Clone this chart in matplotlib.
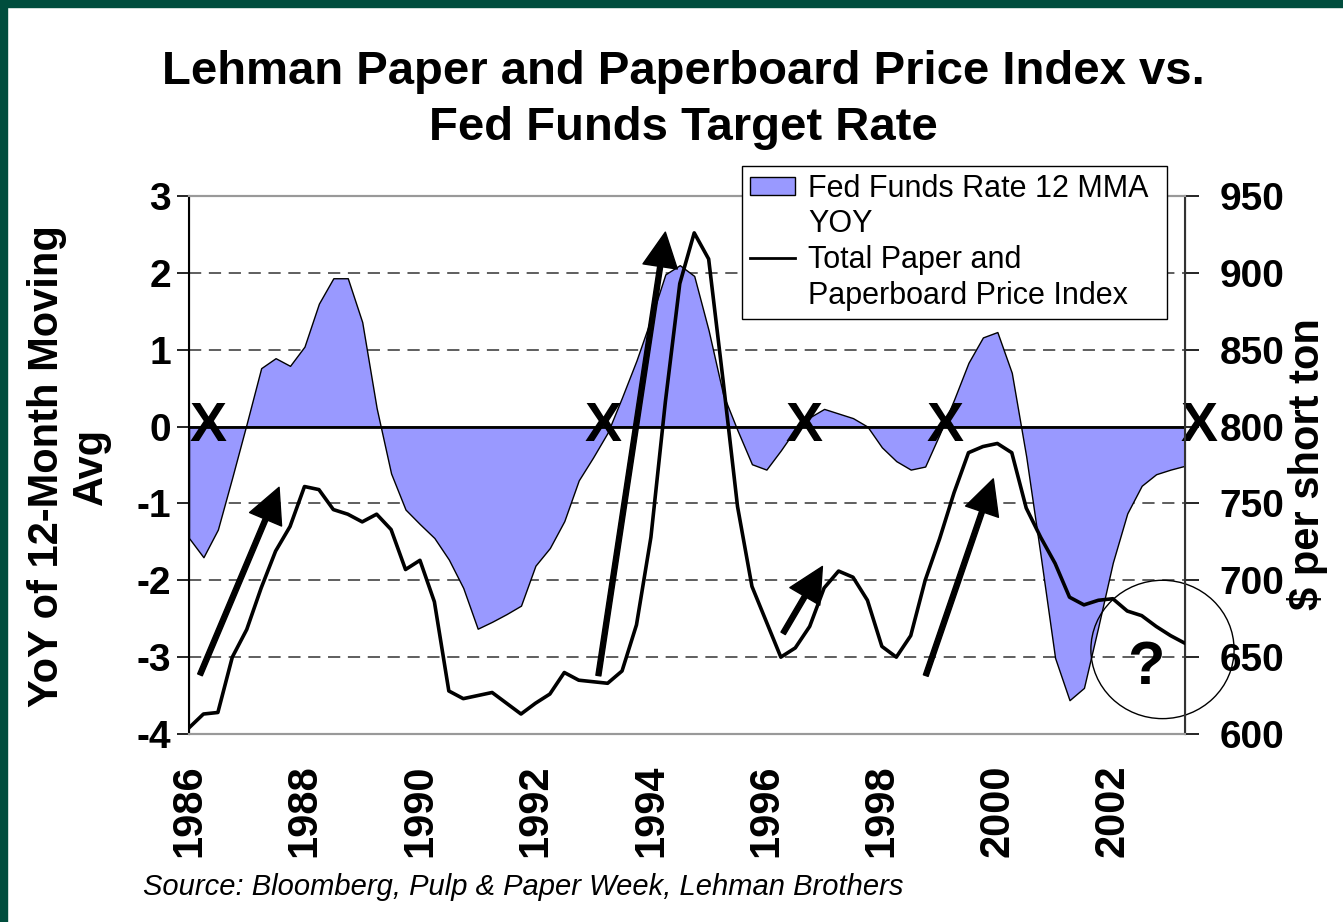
import matplotlib.pyplot as plt
import numpy as np
from matplotlib.patches import Patch, Ellipse
from matplotlib.lines import Line2D

plt.rcParams['font.family'] = ['Liberation Sans', 'DejaVu Sans']

# quarterly data, first quarter of 1986 onward
start_year = 1986
fed_yoy = [-1.45, -1.70, -1.34, -0.66, 0.04, 0.76, 0.89, 0.79, 1.04, 1.60,
           1.93, 1.93, 1.36, 0.24, -0.61, -1.08, -1.27, -1.45, -1.73, -2.10,
           -2.63, -2.54, -2.44, -2.33, -1.81, -1.58, -1.23, -0.70, -0.40, -0.08,
           0.38, 0.86, 1.40, 1.98, 2.10, 1.96, 1.25, 0.42, -0.05, -0.49,
           -0.56, -0.31, -0.04, 0.12, 0.23, 0.17, 0.11, 0.00, -0.27, -0.45,
           -0.56, -0.52, -0.10, 0.35, 0.83, 1.16, 1.23, 0.70, -0.39, -1.68,
           -3.01, -3.56, -3.40, -2.60, -1.77, -1.13, -0.77, -0.62, -0.56, -0.51]
price_index = [604, 613, 614, 650, 668, 695, 719, 735, 761, 759,
               746, 743, 738, 743, 733, 707, 713, 686, 628, 623,
               625, 627, 620, 613, 620, 626, 640, 635, 634, 633,
               641, 671, 728, 816, 893, 926, 909, 830, 748, 696,
               673, 650, 656, 670, 695, 706, 702, 687, 657, 650,
               664, 700, 727, 757, 783, 787, 789, 783, 747, 728,
               711, 689, 684, 687, 688, 680, 677, 670, 664, 659]
quarters = start_year + np.arange(len(fed_yoy)) / 4

year_ticks = [1986, 1988, 1990, 1992, 1994, 1996, 1998, 2000, 2002]
left_ticks = [-4, -3, -2, -1, 0, 1, 2, 3]
right_ticks = [600, 650, 700, 750, 800, 850, 900, 950]

# turning points (X marks) and arrows (tail -> tip)
x_marks = [1986.33, 1993.17, 1996.65, 1999.09, 2003.50]
arrows = [((1986.19, -3.23), (1987.56, -0.79)),
          ((1993.09, -3.24), (1994.25, 2.53)),
          ((1996.29, -2.69), (1996.97, -1.82)),
          ((1998.76, -3.24), (1999.93, -0.68))]

fig = plt.figure(figsize=(13.43, 9.22), dpi=100)
ax = fig.add_axes([189/1343, 1 - 734/922, (1185-189)/1343, (734-196)/922])
ax2 = ax.twinx()

ax.fill_between(quarters, fed_yoy, 0, facecolor='#9999ff', edgecolor='black', lw=1, zorder=2)
ax2.plot(quarters, price_index, color='black', lw=2.6, zorder=3)

ax.set_xlim(1986, 2003.25)
ax.set_ylim(-4, 3)
ax2.set_ylim(600, 950)

for g in [-3, -2, -1, 1, 2]:
    ax.axhline(g, color='#333333', lw=1.1, dashes=(8, 5), zorder=1)
ax.axhline(0, color='black', lw=2, zorder=4)

ax.set_xticks(year_ticks)
ax.set_xticklabels([str(y) for y in year_ticks], rotation=90, fontsize=30, fontweight='bold')
ax.tick_params(axis='x', length=0, pad=22)
ax.set_yticks(left_ticks)
ax.set_yticklabels([str(t) for t in left_ticks], fontsize=28, fontweight='bold')
ax.tick_params(axis='y', length=9, width=1.2, pad=4, direction='out')
ax2.set_yticks(right_ticks)
ax2.set_yticklabels([str(t) for t in right_ticks], fontsize=28, fontweight='bold')
ax2.tick_params(axis='y', length=10, width=1.2, pad=15, direction='out')

for a in (ax, ax2):
    a.spines['top'].set_color('#999999')
    a.spines['bottom'].set_color('#999999')
    a.spines['top'].set_linewidth(1.5)
    a.spines['bottom'].set_linewidth(1.5)
ax2.spines['left'].set_color('black')
ax2.spines['left'].set_linewidth(1.5)
ax2.spines['right'].set_color('#333333')
ax2.spines['right'].set_linewidth(1.5)

for xm in x_marks:
    ax.text(xm, 0, 'X', fontsize=40, fontweight='bold', ha='center', va='center',
            zorder=6, clip_on=False)

for tail, tip in arrows:
    ax.annotate('', xy=tip, xytext=tail, zorder=6,
                arrowprops=dict(facecolor='black', edgecolor='black', width=3.6,
                                headwidth=25, headlength=25, shrink=0))

ax.add_patch(Ellipse((2002.86, -2.9), 2.48, 1.8, fill=False, edgecolor='black',
                     lw=1, clip_on=False, zorder=6))
ax.text(2002.57, -3.15, '?', fontsize=44, fontweight='bold', ha='center', va='center', zorder=6)

# Excel puts the legend key next to the first line of each entry
blank = Line2D([], [], color='none')
handles = [Patch(facecolor='#9999ff', edgecolor='black', lw=1), blank,
           Line2D([], [], color='black', lw=2), blank]
labels = ['Fed Funds Rate 12 MMA', 'YOY', 'Total Paper and', 'Paperboard Price Index']
leg = fig.legend(handles, labels, loc='upper left',
                 bbox_to_anchor=(742/1343, 1 - 313/922, 425/1343, 147/922),
                 mode='expand', fontsize=22, frameon=True, fancybox=False,
                 edgecolor='black', framealpha=1, borderaxespad=0, borderpad=0.25,
                 handlelength=1.5, handleheight=0.55, handletextpad=0.42,
                 labelspacing=0.19)
leg.get_frame().set_linewidth(1)
leg.set_zorder(10)

fig.text(683/1343, 1 - 100/922, 'Lehman Paper and Paperboard Price Index vs.\nFed Funds Target Rate',
         fontsize=34, fontweight='bold', ha='center', va='center', linespacing=1.38)
fig.text(69/1343, 1 - 466/922, 'YoY of 12-Month Moving\nAvg', fontsize=30, fontweight='bold',
         rotation=90, ha='center', va='center', multialignment='center', linespacing=1.12)
fig.text(1308/1343, 1 - 464/922, '$ per short ton', fontsize=30, fontweight='bold',
         rotation=90, ha='center', va='center')
fig.text(143/1343, 1 - 887/922, 'Source: Bloomberg, Pulp & Paper Week, Lehman Brothers',
         fontsize=21, style='italic', ha='left', va='center')

# green frame on top and left
fig.patches.append(plt.Rectangle((0, 1 - 7/922), 1, 7/922, transform=fig.transFigure,
                                 color='#004d3d', zorder=0))
fig.patches.append(plt.Rectangle((0, 0), 7/1343, 1, transform=fig.transFigure,
                                 color='#004d3d', zorder=0))

fig.savefig('out.png', dpi=100)
